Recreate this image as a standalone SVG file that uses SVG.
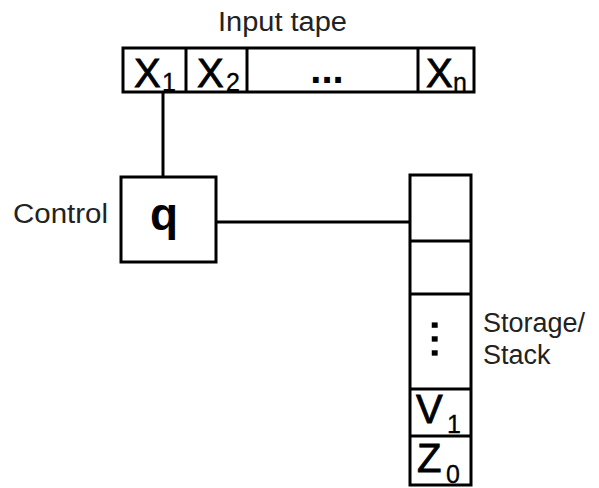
<svg xmlns="http://www.w3.org/2000/svg" width="599" height="488" viewBox="0 0 599 488">
<style>
.box{fill:#fff;stroke:#000;stroke-width:3}
.div{stroke:#000;stroke-width:3}
.con{stroke:#000;stroke-width:3;fill:none}
.lbl{font-family:"Liberation Sans",Arial,sans-serif;font-size:27px;fill:#222}
.sym{font-family:"Liberation Sans",Arial,sans-serif;font-size:40px;fill:#000;stroke:#000;stroke-width:0.8px}
.sub{font-family:"Liberation Sans",Arial,sans-serif;font-size:25px;fill:#000;stroke:#000;stroke-width:0.3px}
.dots{font-family:"Liberation Sans",Arial,sans-serif;font-weight:bold;fill:#000}
.vdots{font-family:"Liberation Sans",Arial,sans-serif;font-size:50px;font-weight:normal;fill:#000;stroke:#000;stroke-width:0.5px}
</style>
<rect width="599" height="488" fill="#fff"/>
<g id="connectors">
<line class="con" x1="163" y1="92" x2="163" y2="177"/>
<line class="con" x1="216" y1="222" x2="410" y2="222"/>
</g>
<g id="tape">
<text class="lbl" x="218" y="31" textLength="129" lengthAdjust="spacingAndGlyphs">Input tape</text>
<rect class="box" x="123" y="48" width="351" height="44"/>
<line class="div" x1="186" y1="48" x2="186" y2="92"/>
<line class="div" x1="247" y1="48" x2="247" y2="92"/>
<line class="div" x1="418" y1="48" x2="418" y2="92"/>
<text class="sym" x="134" y="87">X</text><text class="sub" x="162" y="91">1</text>
<text class="sym" x="197" y="87">X</text><text class="sub" x="226" y="91">2</text>
<text class="dots" x="327" y="83" text-anchor="middle" style="font-size:40px">...</text>
<text class="sym" x="426" y="87">X</text><text class="sub" x="453" y="91">n</text>
</g>
<g id="control">
<text class="lbl" x="13" y="223" textLength="95" lengthAdjust="spacingAndGlyphs">Control</text>
<rect class="box" x="121" y="177" width="95" height="85"/>
<text class="sym" x="164" y="230" text-anchor="middle" style="font-size:46px;font-weight:bold;stroke-width:0">q</text>
</g>
<g id="stack">
<rect class="box" x="410" y="175" width="61" height="310"/>
<line class="div" x1="410" y1="241" x2="471" y2="241"/>
<line class="div" x1="410" y1="294" x2="471" y2="294"/>
<line class="div" x1="410" y1="389" x2="471" y2="389"/>
<line class="div" x1="410" y1="436" x2="471" y2="436"/>
<text class="vdots" transform="translate(432,339) rotate(90)" text-anchor="middle">...</text>
<text class="sym" x="416" y="423">V</text><text class="sub" x="447" y="433">1</text>
<text class="sym" x="417" y="472">Z</text><text class="sub" x="446" y="483">0</text>
<text class="lbl" x="483" y="332">Storage/</text>
<text class="lbl" x="483" y="364">Stack</text>
</g>
</svg>
